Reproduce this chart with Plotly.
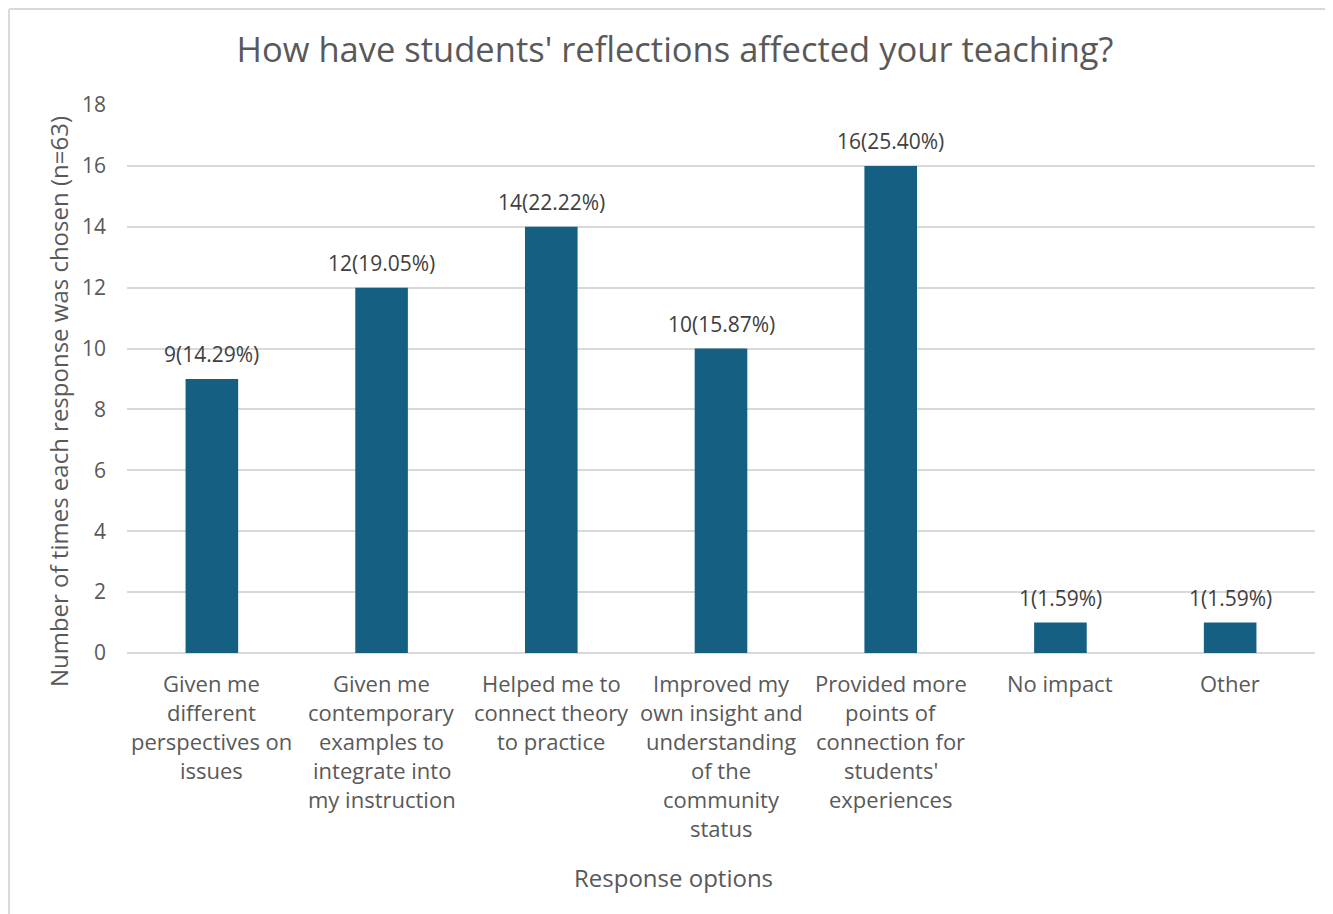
import plotly.graph_objects as go

categories = [
    ["Given me", "different", "perspectives on", "issues"],
    ["Given me", "contemporary", "examples to", "integrate into", "my instruction"],
    ["Helped me to", "connect theory", "to practice"],
    ["Improved my", "own insight and", "understanding", "of the", "community", "status"],
    ["Provided more", "points of", "connection for", "students'", "experiences"],
    ["No impact"],
    ["Other"],
]
counts = [9, 12, 14, 10, 16, 1, 1]
percents = ["14.29%", "19.05%", "22.22%", "15.87%", "25.40%", "1.59%", "1.59%"]
y_ticks = [0, 2, 4, 6, 8, 10, 12, 14, 16, 18]

labels = [f"{c}({p})" for c, p in zip(counts, percents)]
text_color = "#595959"
font_family = "Open Sans"
xs = list(range(len(categories)))

fig = go.Figure(go.Bar(
    x=xs,
    y=counts,
    marker_color="#156082",
    marker_line_width=0,
    hoverinfo="y",
))

annotations = []
# data labels above bars
for i, (c, lab) in enumerate(zip(counts, labels)):
    annotations.append(dict(
        x=i, y=c, xref="x", yref="y", text=lab, showarrow=False,
        yanchor="middle", yshift=25,
        font=dict(size=21, color="#404040"),
    ))
# category labels, one line per annotation to get Excel-like line spacing
for i, lines in enumerate(categories):
    for j, line in enumerate(lines):
        annotations.append(dict(
            x=i, y=0, xref="x", yref="y", text=line, showarrow=False,
            yanchor="middle", yshift=-(30 + 29 * j),
            font=dict(size=22, color=text_color),
        ))
annotations += [
    dict(text="Number of times each response was chosen (n=63)", textangle=-90,
         xref="paper", yref="paper", x=-0.058, y=0.458, showarrow=False,
         xanchor="center", yanchor="middle",
         font=dict(size=24, color=text_color)),
    dict(text="Response options", xref="paper", yref="paper",
         x=0.4604, y=-0.4088, showarrow=False,
         xanchor="center", yanchor="middle",
         font=dict(size=24, color=text_color)),
]

fig.update_layout(
    width=1333, height=914,
    margin=dict(l=119, r=26, t=97, b=269),
    paper_bgcolor="white", plot_bgcolor="white",
    bargap=0.69,
    showlegend=False,
    font=dict(family=font_family, color=text_color),
    title=dict(
        text="How have students' reflections affected your teaching?",
        x=0.5004, xanchor="center", y=1 - 42 / 914, yanchor="middle",
        font=dict(size=34.5, color=text_color, family=font_family),
    ),
    xaxis=dict(
        tickvals=xs, showticklabels=False, range=[-0.5, len(categories) - 0.5],
        showgrid=False, showline=False, ticks="",
    ),
    yaxis=dict(
        range=[0, 18], tickvals=y_ticks,
        tickfont=dict(size=21, color=text_color),
        showgrid=True, gridcolor="#d9d9d9", gridwidth=1.5,
        zeroline=True, zerolinecolor="#d9d9d9", zerolinewidth=1.5,
        ticks="", showline=False, ticklabelstandoff=20,
    ),
    annotations=annotations,
    shapes=[
        dict(type="line", xref="paper", yref="paper", x0=-0.0993, x1=1.1,
             y0=1.1752, y1=1.1752, line=dict(color="#d9d9d9", width=2)),
        dict(type="line", xref="paper", yref="paper", x0=-0.0993, x1=-0.0993,
             y0=1.1752, y1=-0.5, line=dict(color="#d9d9d9", width=2)),
    ],
)

fig.write_html("out.html")
